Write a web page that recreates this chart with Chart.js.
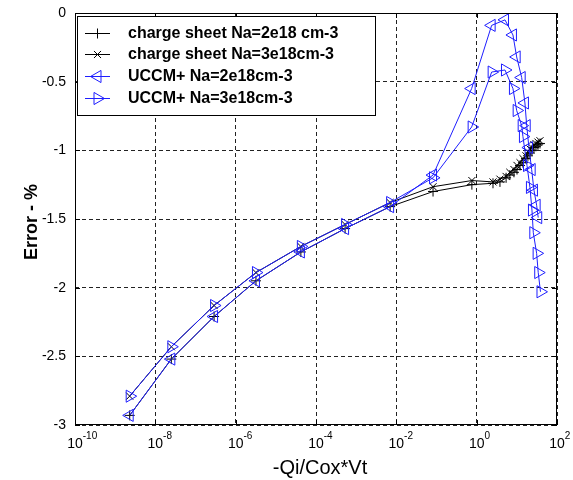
<!DOCTYPE html>
<html>
<head>
<meta charset="utf-8">
<script src="https://cdn.jsdelivr.net/npm/chart.js@4.4.1/dist/chart.umd.min.js"></script>
<style>
  html, body { margin: 0; padding: 0; background: #fff; }
  canvas { display: block; }
</style>
</head>
<body>
<canvas id="errorChart" width="573" height="480"></canvas>
<script>
// x = -Qi/Cox*Vt, y = error in %
// charge sheet, Na=2e18
const csX1 = [2.3e-9, 2.5e-8, 2.9e-7, 3.2e-6, 4.2e-5, 5.3e-4, 7.0e-3, 8.2e-2, 0.76, 2.55, 3.8, 5.4, 6.7, 8.5, 10.1, 12.0, 14.2, 16.9, 18.9, 21.2, 23.8, 26.7, 29.9, 33.6, 37.7];
const csY1 = [-2.93, -2.52, -2.21, -1.95, -1.74, -1.57, -1.41, -1.30, -1.25, -1.24, -1.23, -1.20, -1.18, -1.16, -1.14, -1.11, -1.09, -1.06, -1.04, -1.02, -1.00, -0.98, -0.97, -0.96, -0.95];
// charge sheet, Na=3e18
const csX2 = [2.3e-9, 2.5e-8, 2.9e-7, 3.2e-6, 4.2e-5, 5.3e-4, 7.0e-3, 8.2e-2, 0.76, 2.55, 3.8, 5.4, 6.7, 8.5, 10.1, 12.0, 14.2, 16.9, 18.9, 21.2, 23.8, 26.7, 29.9, 33.6, 37.7];
const csY2 = [-2.79, -2.43, -2.13, -1.89, -1.70, -1.54, -1.38, -1.265, -1.22, -1.23, -1.21, -1.19, -1.16, -1.14, -1.11, -1.09, -1.06, -1.04, -1.01, -0.99, -0.98, -0.96, -0.95, -0.94, -0.93];
// UCCM+, Na=2e18
const ucX1 = [2.3e-9, 2.5e-8, 2.9e-7, 3.2e-6, 4.2e-5, 5.3e-4, 7.0e-3, 8.2e-2, 0.75, 2.36, 5.07, 8.0, 9.9, 13.2, 15.9, 17.6, 20.0, 23.4, 26.7, 31.1, 34.1];
const ucY1 = [-2.93, -2.52, -2.21, -1.95, -1.74, -1.57, -1.41, -1.18, -0.55, -0.09, -0.05, -0.16, -0.32, -0.47, -0.655, -0.82, -0.98, -1.14, -1.29, -1.40, -1.49];
// UCCM+, Na=3e18
const ucX2 = [2.3e-9, 2.5e-8, 2.9e-7, 3.2e-6, 4.2e-5, 5.3e-4, 7.0e-3, 8.2e-2, 0.75, 2.36, 5.07, 8.0, 9.9, 13.2, 14.2, 17.9, 21.2, 23.8, 25.7, 31.1, 34.1, 38.8];
const ucY2 = [-2.79, -2.43, -2.13, -1.89, -1.70, -1.54, -1.38, -1.20, -0.83, -0.43, -0.415, -0.55, -0.71, -0.82, -0.90, -1.11, -1.27, -1.435, -1.60, -1.75, -1.89, -2.03];

const seriesLabels = [
  'charge sheet Na=2e18 cm-3',
  'charge sheet Na=3e18cm-3',
  'UCCM+ Na=2e18cm-3',
  'UCCM+ Na=3e18cm-3',
];

// tick positions
const xTickExps = [-10, -8, -6, -4, -2, 0, 2];
const yTicks = [0, -0.5, -1, -1.5, -2, -2.5, -3];
const yTickLabels = ['0', '-0.5', '-1', '-1.5', '-2', '-2.5', '-3'];

const FONT = '"Liberation Sans", Arial, sans-serif';
const BLUE = 'rgb(30, 30, 255)';

function toPoints(xs, ys) {
  return xs.map((x, i) => ({ x: x, y: ys[i] }));
}

function makeSet(label, xs, ys, color, style, rotation, radius, order) {
  return {
    label: label,
    data: toPoints(xs, ys),
    showLine: true,
    order: order,
    borderColor: color,
    borderWidth: 1,
    pointStyle: style,
    rotation: rotation,
    pointRadius: radius,
    pointHoverRadius: radius,
    pointBorderColor: color,
    pointBackgroundColor: 'rgba(0,0,0,0)',
    pointBorderWidth: 1,
    tension: 0,
    clip: 10,
  };
}

// blue UCCM curves sit on top of the black ones
const datasets = [
  makeSet(seriesLabels[0], csX1, csY1, '#000', 'cross', 0, 5, 3),
  makeSet(seriesLabels[1], csX2, csY2, '#000', 'crossRot', 0, 5, 2),
  makeSet(seriesLabels[2], ucX1, ucY1, BLUE, 'triangle', -90, 7, 1),
  makeSet(seriesLabels[3], ucX2, ucY2, BLUE, 'triangle', 90, 7, 0),
];

// draw one legend marker the same way the chart does
function legendMarker(ctx, ds, x, y) {
  ctx.save();
  ctx.strokeStyle = ds.pointBorderColor;
  ctx.lineWidth = 1;
  if (Chart.helpers && Chart.helpers.drawPoint) {
    ctx.fillStyle = 'rgba(0,0,0,0)';
    Chart.helpers.drawPoint(ctx, {
      pointStyle: ds.pointStyle,
      rotation: ds.rotation,
      radius: ds.pointRadius,
      borderWidth: 1,
    }, x, y);
  }
  ctx.restore();
}

// matlab-like box, inner ticks, labels and legend
const matlabAxes = {
  id: 'matlabAxes',
  afterDraw(chart) {
    const ctx = chart.ctx;
    const area = chart.chartArea;
    const xs = chart.scales.x;
    const ys = chart.scales.y;
    ctx.save();

    // frame
    ctx.strokeStyle = '#000';
    ctx.lineWidth = 1;
    ctx.setLineDash([]);
    ctx.strokeRect(Math.round(area.left) + 0.5, Math.round(area.top) + 0.5,
      Math.round(area.right - area.left) - 1, Math.round(area.bottom - area.top) - 1);

    // inward ticks
    ctx.beginPath();
    xTickExps.forEach(e => {
      const px = Math.round(xs.getPixelForValue(Math.pow(10, e))) + 0.5;
      ctx.moveTo(px, area.bottom); ctx.lineTo(px, area.bottom - 5);
      ctx.moveTo(px, area.top); ctx.lineTo(px, area.top + 5);
    });
    yTicks.forEach(v => {
      const py = Math.round(ys.getPixelForValue(v)) + 0.5;
      ctx.moveTo(area.left, py); ctx.lineTo(area.left + 5, py);
      ctx.moveTo(area.right, py); ctx.lineTo(area.right - 5, py);
    });
    ctx.stroke();

    // y tick labels
    ctx.fillStyle = '#000';
    ctx.font = '14px ' + FONT;
    ctx.textAlign = 'right';
    ctx.textBaseline = 'middle';
    yTicks.forEach((v, i) => {
      ctx.fillText(yTickLabels[i], area.left - 9, ys.getPixelForValue(v));
    });

    // x tick labels: 10 with superscript exponent
    xTickExps.forEach(e => {
      const px = xs.getPixelForValue(Math.pow(10, e));
      ctx.font = '14px ' + FONT;
      ctx.textAlign = 'center';
      ctx.textBaseline = 'alphabetic';
      const w = ctx.measureText('10').width;
      ctx.fillText('10', px, area.bottom + 23);
      ctx.font = '10px ' + FONT;
      ctx.textAlign = 'left';
      ctx.fillText(String(e), px + w / 2, area.bottom + 14);
    });

    // axis titles
    ctx.font = '20px ' + FONT;
    ctx.textAlign = 'center';
    ctx.textBaseline = 'alphabetic';
    ctx.fillText('-Qi/Cox*Vt', (area.left + area.right) / 2 + 4, 474);

    ctx.save();
    ctx.translate(37, 222);
    ctx.rotate(-Math.PI / 2);
    ctx.font = 'bold 18px ' + FONT;
    ctx.fillText('Error - %', 0, 0);
    ctx.restore();

    // legend box
    const lx = 77, ly = 16, lw = 298, lh = 99;
    ctx.fillStyle = '#fff';
    ctx.fillRect(lx, ly, lw, lh);
    ctx.strokeStyle = '#000';
    ctx.strokeRect(lx + 0.5, ly + 0.5, lw, lh);
    const rows = [33, 54, 76, 98];
    chart.data.datasets.forEach((ds, i) => {
      const ry = rows[i] + 0.5;
      ctx.strokeStyle = ds.borderColor;
      ctx.beginPath();
      ctx.moveTo(85, ry); ctx.lineTo(110, ry);
      ctx.stroke();
      legendMarker(ctx, ds, 97.5, ry);
      ctx.fillStyle = '#000';
      ctx.font = 'bold 16px ' + FONT;
      ctx.textAlign = 'left';
      ctx.textBaseline = 'middle';
      ctx.fillText(ds.label, 128, rows[i] + 1);
    });

    ctx.restore();
  },
};

const ctx = document.getElementById('errorChart').getContext('2d');
new Chart(ctx, {
  type: 'scatter',
  data: { datasets: datasets },
  options: {
    responsive: false,
    animation: false,
    devicePixelRatio: 1,
    layout: { padding: { left: 75, right: 16, top: 13, bottom: 55 } },
    plugins: {
      legend: { display: false },
      tooltip: { enabled: false },
    },
    scales: {
      x: {
        type: 'logarithmic',
        min: 1e-10,
        max: 1e2,
        afterBuildTicks: (scale) => {
          scale.ticks = xTickExps.map(e => ({ value: Math.pow(10, e) }));
        },
        ticks: { display: false },
        grid: { color: '#222', lineWidth: 1, drawTicks: false },
        border: { display: false, dash: [4, 3] },
      },
      y: {
        type: 'linear',
        min: -3,
        max: 0,
        afterBuildTicks: (scale) => {
          scale.ticks = yTicks.map(v => ({ value: v }));
        },
        ticks: { display: false },
        grid: { color: '#222', lineWidth: 1, drawTicks: false },
        border: { display: false, dash: [4, 3] },
      },
    },
  },
  plugins: [matlabAxes],
});
</script>
</body>
</html>
